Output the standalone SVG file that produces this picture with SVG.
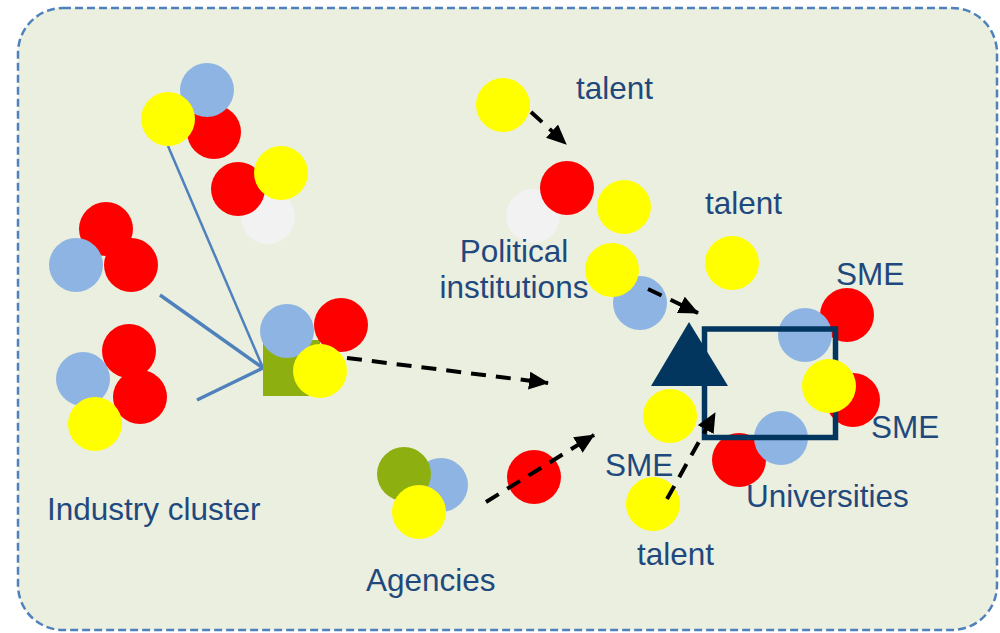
<svg xmlns="http://www.w3.org/2000/svg" width="1000" height="633" viewBox="0 0 1000 633">
<style>
.lbl{font-family:"Liberation Sans",Arial,sans-serif;font-size:31.5px;fill:#1F497D}
.r{fill:#FF0000}.y{fill:#FFFF00}.b{fill:#8EB4E3}.w{fill:#F2F2F2}.g{fill:#8DB010}
.spoke{stroke:#4F81BD;fill:none}
.dash{stroke:#000;stroke-width:4;stroke-dasharray:15 10;fill:none;marker-end:url(#ah)}
</style>
<defs>
<marker id="ah" markerUnits="userSpaceOnUse" markerWidth="20" markerHeight="18" viewBox="0 0 20 18" refX="19" refY="9" orient="auto">
<path d="M0,0 L20,9 L0,18 Z" fill="#000"/>
</marker>
</defs>
<rect id="frame" x="18" y="8" width="979" height="622" rx="45" ry="45" fill="#EBEFDF" stroke="#4F81BD" stroke-width="2.5" stroke-dasharray="8 4"/>

<g id="spokes">
<line class="spoke" x1="168" y1="146" x2="263" y2="368" stroke-width="2.5"/>
<line class="spoke" x1="160" y1="295" x2="263" y2="368" stroke-width="3.5"/>
<line class="spoke" x1="197" y1="400" x2="263" y2="368" stroke-width="3.5"/>
</g>

<g id="cluster-a">
<circle class="r" cx="214" cy="132" r="27"/>
<circle class="b" cx="207" cy="90" r="27"/>
<circle class="y" cx="168" cy="119" r="27"/>
</g>
<g id="cluster-b">
<circle class="w" cx="268" cy="217" r="27"/>
<circle class="r" cx="238" cy="189" r="27"/>
<circle class="y" cx="281" cy="173" r="27"/>
</g>
<g id="cluster-c">
<circle class="r" cx="106" cy="229" r="27"/>
<circle class="b" cx="76" cy="265" r="27"/>
<circle class="r" cx="131" cy="265" r="27"/>
</g>
<g id="cluster-d">
<circle class="b" cx="83" cy="379" r="27"/>
<circle class="r" cx="129" cy="351" r="27"/>
<circle class="r" cx="140" cy="397" r="27"/>
<circle class="y" cx="95" cy="424" r="27"/>
</g>
<g id="hub">
<rect class="g" x="263" y="340" width="57" height="56"/>
<circle class="b" cx="287" cy="331" r="27"/>
<circle class="r" cx="341" cy="325" r="27"/>
<circle class="y" cx="320" cy="371" r="27"/>
</g>
<g id="industry-label"><text class="lbl" x="47" y="520">Industry cluster</text></g>

<g id="political">
<circle class="y" cx="503" cy="105" r="27"/>
<circle class="w" cx="533" cy="216" r="27"/>
<circle class="r" cx="567" cy="188" r="27"/>
<circle class="y" cx="624" cy="207" r="27"/>
<circle class="b" cx="640" cy="303" r="27"/>
<circle class="y" cx="612" cy="270" r="27"/>
<text class="lbl" x="514" y="262" text-anchor="middle">Political</text>
<text class="lbl" x="514" y="298" text-anchor="middle">institutions</text>
</g>
<g id="talent-top"><text class="lbl" x="576" y="99">talent</text></g>
<g id="talent-mid">
<circle class="y" cx="732" cy="263" r="27"/>
<text class="lbl" x="705" y="214">talent</text>
</g>

<g id="universities">
<circle class="r" cx="847" cy="315" r="27"/>
<circle class="b" cx="805" cy="335" r="27"/>
<circle class="r" cx="853" cy="400" r="27"/>
<circle class="r" cx="739" cy="460" r="27"/>
<circle class="b" cx="781" cy="438" r="27"/>
<rect x="704.5" y="329" width="131" height="108.5" fill="none" stroke="#03365E" stroke-width="5.5"/>
<circle class="y" cx="829" cy="386" r="27"/>
<polygon points="689,322 651,386 728,386" fill="#03365E"/>
<text class="lbl" x="836" y="285">SME</text>
<text class="lbl" x="871" y="438">SME</text>
<text class="lbl" x="746" y="507">Universities</text>
</g>

<g id="sme-talent">
<circle class="y" cx="670" cy="416" r="27"/>
<circle class="y" cx="653" cy="504" r="27"/>
<text class="lbl" x="605" y="476">SME</text>
<text class="lbl" x="637" y="565">talent</text>
</g>

<g id="agencies">
<circle class="b" cx="441" cy="485" r="27"/>
<circle class="g" cx="404" cy="474" r="27"/>
<circle class="y" cx="419" cy="512" r="27"/>
<circle class="r" cx="534" cy="477" r="27"/>
<text class="lbl" x="366" y="591">Agencies</text>
</g>

<g id="connectors">
<path class="dash" d="M531,112 L566,144"/>
<path class="dash" d="M648,289 L698,313"/>
<path class="dash" d="M347,358 L548,383"/>
<path class="dash" d="M486,502 L594,435"/>
<path class="dash" d="M667,499 L715,413"/>
</g>
</svg>
